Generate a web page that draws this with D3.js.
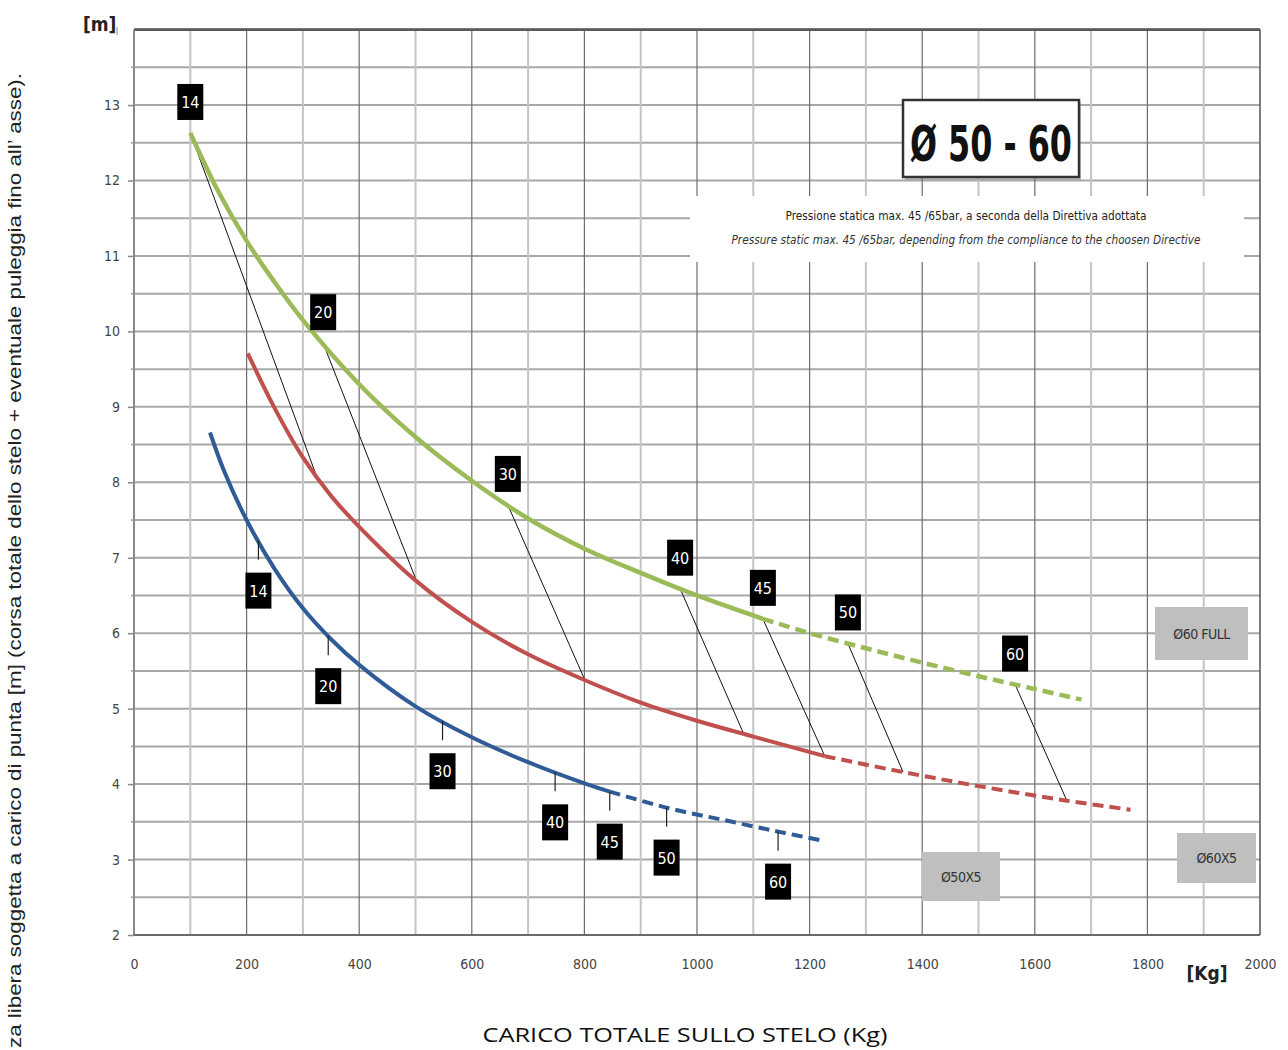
<!DOCTYPE html>
<html><head><meta charset="utf-8">
<script src="https://cdn.jsdelivr.net/npm/d3@7"></script>
<style>body{margin:0;background:#fff} svg{display:block}</style>
</head><body>
<svg id="chart" width="1288" height="1050"></svg>
<script>
// ---------- data ----------
const xTickValues = [0,200,400,600,800,1000,1200,1400,1600,1800,2000];
const yTickValues = [2,3,4,5,6,7,8,9,10,11,12,13];

// Ø60 FULL (green)
const greenSolid = [[100,12.63],[150,11.85],[200,11.2],[250,10.65],[300,10.15],[400,9.3],[500,8.6],[600,8.02],[700,7.52],[800,7.12],[900,6.8],[1000,6.5],[1117,6.19]];
const greenDashed = [[1117,6.19],[1200,6.0],[1300,5.8],[1400,5.61],[1500,5.43],[1600,5.26],[1683,5.12]];
// Ø60X5 (red)
const redSolid = [[202,9.71],[250,8.98],[300,8.33],[350,7.82],[400,7.41],[500,6.7],[600,6.15],[700,5.72],[800,5.38],[900,5.08],[1000,4.84],[1100,4.63],[1227,4.37]];
const redDashed = [[1227,4.37],[1366,4.16],[1503,3.97],[1657,3.78],[1770,3.66]];
// Ø50X5 (blue)
const blueSolid = [[135,8.66],[160,8.15],[200,7.5],[250,6.85],[300,6.33],[350,5.92],[400,5.58],[500,5.03],[600,4.62],[700,4.29],[800,4.01],[845,3.9]];
const blueDashed = [[845,3.9],[950,3.68],[1050,3.52],[1144,3.37],[1224,3.25]];

// marker labels
const markerLabels = ["14","20","30","40","45","50","60"];
const greenMarkerX = [100,336,664,970,1117,1268,1565];
const redLinkX     = [324,502,801,1083,1227,1366,1657];
const blueMarkerX  = [221,345,548,748,845,946,1144];

const seriesNames = ["Ø60 FULL","Ø60X5","Ø50X5"];
const titleText = "Ø 50 - 60";
const noteLine1 = "Pressione statica max. 45 /65bar, a seconda della Direttiva adottata";
const noteLine2 = "Pressure static max. 45 /65bar, depending from the compliance to the choosen Directive";
const xTitle = "CARICO TOTALE SULLO STELO (Kg)";
const yTitle = "za libera soggetta a carico di punta [m] (corsa totale dello stelo + eventuale puleggia fino all\u2019  asse).";

// ---------- layout ----------
const svg = d3.select("#chart");
const L = 134, R = 1260, T = 29.6, B = 935;
const x = d3.scaleLinear().domain([0,2000]).range([L,R]);
const y = d3.scaleLinear().domain([2,14]).range([B,T]);
const condensed = "'Liberation Sans Narrow','DejaVu Sans Condensed','DejaVu Sans',sans-serif";

const colors = {green:"#9bbb59", red:"#c0504d", blue:"#2f5b96"};

// plot background
svg.append("rect").attr("x",L).attr("y",T).attr("width",R-L).attr("height",B-T).attr("fill","#fff");

// grid: horizontal every 0.5
const hVals = d3.range(2,14.01,0.5);
svg.append("g").selectAll("line").data(hVals).join("line")
  .attr("x1",L).attr("x2",R).attr("y1",d=>y(d)).attr("y2",d=>y(d))
  .attr("stroke","#a8a8a8").attr("stroke-width",2);
// vertical every 100
const vVals = d3.range(100,2000,100);
svg.append("g").selectAll("line").data(vVals).join("line")
  .attr("x1",d=>x(d)).attr("x2",d=>x(d)).attr("y1",T).attr("y2",B)
  .attr("stroke",d=>d%200===0?"#6e6e6e":"#c4c4c4")
  .attr("stroke-width",d=>d%200===0?1.2:2);

// note box (white, covers grid)
const noteG = svg.append("g");
noteG.append("rect").attr("x",690).attr("y",196).attr("width",554).attr("height",66).attr("fill","#fff");
noteG.append("text").attr("x",966).attr("y",220).attr("text-anchor","middle")
  .attr("font-family",condensed).attr("font-size",12).attr("fill","#222")
  .attr("textLength",361).attr("lengthAdjust","spacingAndGlyphs").text(noteLine1);
noteG.append("text").attr("x",966).attr("y",244).attr("text-anchor","middle")
  .attr("font-family",condensed).attr("font-size",12).attr("font-style","italic").attr("fill","#333")
  .attr("textLength",469).attr("lengthAdjust","spacingAndGlyphs").text(noteLine2);

// frame
svg.append("line").attr("x1",L).attr("x2",R).attr("y1",T).attr("y2",T).attr("stroke","#5a5a5a").attr("stroke-width",2.8);
svg.append("line").attr("x1",L).attr("x2",L).attr("y1",T).attr("y2",B).attr("stroke","#8a8a8a").attr("stroke-width",2);
svg.append("line").attr("x1",L).attr("x2",R).attr("y1",B).attr("y2",B).attr("stroke","#6a6a6a").attr("stroke-width",2);
svg.append("line").attr("x1",R).attr("x2",R).attr("y1",T).attr("y2",B).attr("stroke","#555").attr("stroke-width",1.5);

// axes
const yAxis = svg.append("g").attr("transform",`translate(${L},0)`)
  .call(d3.axisLeft(y).tickValues(yTickValues).tickSize(6).tickPadding(8).tickFormat(d3.format("d")));
yAxis.select(".domain").remove();
yAxis.selectAll("line").attr("stroke","#888").attr("stroke-width",1.5);
yAxis.selectAll("text").attr("font-family",condensed).attr("font-size",14).attr("fill","#444");
svg.append("g").selectAll("line").data(d3.range(2.5,14,1)).join("line")
  .attr("x1",L-3).attr("x2",L).attr("y1",d=>y(d)).attr("y2",d=>y(d)).attr("stroke","#999").attr("stroke-width",1.5);

const xAxis = svg.append("g").attr("transform",`translate(0,${B})`)
  .call(d3.axisBottom(x).tickValues(xTickValues).tickSize(0).tickPadding(24).tickFormat(d3.format("d")));
xAxis.select(".domain").remove();
xAxis.selectAll("text").attr("font-family",condensed).attr("font-size",14).attr("fill","#444");

// unit labels
svg.append("text").attr("x",83).attr("y",31).attr("font-family",condensed).attr("font-weight","bold")
  .attr("font-size",19).attr("fill","#222").text("[m]");
svg.append("line").attr("x1",117).attr("x2",117).attr("y1",27).attr("y2",35).attr("stroke","#888").attr("stroke-width",1);
svg.append("text").attr("x",1207).attr("y",980).attr("text-anchor","middle").attr("font-family",condensed)
  .attr("font-weight","bold").attr("font-size",19).attr("fill","#222").text("[Kg]");

// titles
svg.append("text").attr("x",685).attr("y",1042).attr("text-anchor","middle")
  .attr("font-family","'Open Sans','Noto Sans',sans-serif").attr("font-size",20).attr("fill","#111")
  .attr("textLength",405).attr("lengthAdjust","spacingAndGlyphs").text(xTitle);
svg.append("text").attr("transform","translate(21,73) rotate(-90)").attr("text-anchor","end")
  .attr("font-family","'Liberation Sans',Arial,sans-serif").attr("font-size",19).attr("fill","#222")
  .attr("textLength",975).attr("lengthAdjust","spacingAndGlyphs").text(yTitle);

// title box
svg.append("rect").attr("x",905).attr("y",102).attr("width",176).attr("height",78).attr("fill","#888").attr("opacity",0.5);
svg.append("rect").attr("x",903).attr("y",100).attr("width",176).attr("height",77)
  .attr("fill","#fff").attr("stroke","#333").attr("stroke-width",2.5);
svg.append("text").attr("x",991).attr("y",161).attr("text-anchor","middle")
  .attr("font-family",condensed).attr("font-weight","bold").attr("font-size",50).attr("fill","#111")
  .attr("textLength",162).attr("lengthAdjust","spacingAndGlyphs").text(titleText);

// legend boxes
const legendBoxes = [
  {name:seriesNames[0], x:1155, y:607, w:93, h:53},
  {name:seriesNames[1], x:1177, y:833, w:79, h:50},
  {name:seriesNames[2], x:922, y:852, w:78, h:49}
];
const lg = svg.append("g").selectAll("g").data(legendBoxes).join("g");
lg.append("rect").attr("x",d=>d.x).attr("y",d=>d.y).attr("width",d=>d.w).attr("height",d=>d.h).attr("fill","#bfbfbf");
lg.append("text").attr("x",d=>d.x+d.w/2).attr("y",d=>d.y+d.h/2+5).attr("text-anchor","middle")
  .attr("font-family",condensed).attr("font-size",14).attr("fill","#333").attr("letter-spacing",-0.5).text(d=>d.name);

// curves
const line = d3.line().x(d=>x(d[0])).y(d=>y(d[1])).curve(d3.curveCatmullRom.alpha(0.5));
const curves = [
  {d:greenSolid, c:colors.green, w:4.5, dash:null},
  {d:greenDashed, c:colors.green, w:4.5, dash:"11,6"},
  {d:redSolid, c:colors.red, w:4, dash:null},
  {d:redDashed, c:colors.red, w:4, dash:"11,6"},
  {d:blueSolid, c:colors.blue, w:4, dash:null},
  {d:blueDashed, c:colors.blue, w:4, dash:"11,6"}
];

// helper: position on a drawn curve
function onCurve(pts, xv){
  for(let i=0;i<pts.length-1;i++){
    const a=pts[i], b=pts[i+1];
    if(xv>=a[0] && xv<=b[0]) return a[1]+(b[1]-a[1])*(xv-a[0])/(b[0]-a[0]);
  }
  return xv<pts[0][0]?pts[0][1]:pts[pts.length-1][1];
}
const greenAll = greenSolid.concat(greenDashed.slice(1));
const redAll = redSolid.concat(redDashed.slice(1));
const blueAll = blueSolid.concat(blueDashed.slice(1));

// leader lines green -> red
svg.append("g").selectAll("line").data(markerLabels).join("line")
  .attr("x1",(d,i)=>x(greenMarkerX[i])).attr("y1",(d,i)=>y(onCurve(greenAll,greenMarkerX[i])))
  .attr("x2",(d,i)=>x(redLinkX[i])).attr("y2",(d,i)=>y(onCurve(redAll,redLinkX[i])))
  .attr("stroke","#111").attr("stroke-width",1);

svg.append("g").selectAll("path").data(curves).join("path")
  .attr("d",d=>line(d.d)).attr("fill","none").attr("stroke",d=>d.c).attr("stroke-width",d=>d.w)
  .attr("stroke-dasharray",d=>d.dash);

// blue ticks
svg.append("g").selectAll("line").data(markerLabels).join("line")
  .attr("x1",(d,i)=>x(blueMarkerX[i])).attr("x2",(d,i)=>x(blueMarkerX[i]))
  .attr("y1",(d,i)=>y(onCurve(blueAll,blueMarkerX[i])))
  .attr("y2",(d,i)=>y(onCurve(blueAll,blueMarkerX[i]))+19)
  .attr("stroke","#222").attr("stroke-width",1.2);

// marker boxes
function drawMarker(cx, cy, label){
  const g = svg.append("g");
  g.append("rect").attr("x",cx-13).attr("y",cy-18).attr("width",26).attr("height",36).attr("fill","#000");
  g.append("text").attr("x",cx).attr("y",cy+6).attr("text-anchor","middle")
    .attr("font-family",condensed).attr("font-size",16).attr("fill","#fff").text(label);
}
markerLabels.forEach((lab,i)=>{
  drawMarker(x(greenMarkerX[i]), y(onCurve(greenAll,greenMarkerX[i]))-31, lab);
  drawMarker(x(blueMarkerX[i]), y(onCurve(blueAll,blueMarkerX[i]))+50, lab);
});
</script>
</body></html>
